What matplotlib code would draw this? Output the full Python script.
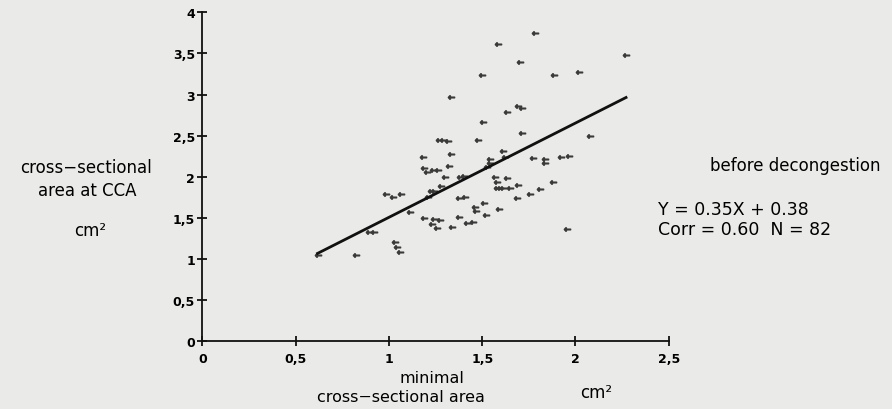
import matplotlib.pyplot as plt
from matplotlib.ticker import FixedLocator, FuncFormatter

plt.rcParams['font.family'] = ['DejaVu Sans']

# minimal cross-sectional area (cm2) vs cross-sectional area at CCA (cm2)
x_vals = [1.783, 1.587, 1.702, 2.271, 1.501, 1.884, 2.019, 1.332, 1.631, 1.692,
          1.712, 1.504, 1.713, 2.078, 1.268, 1.314, 1.475, 1.332, 1.185, 1.609,
          1.542, 1.542, 1.528, 1.772, 1.839, 1.839, 1.925, 1.965, 1.190, 1.204,
          1.238, 1.264, 1.320, 1.300, 1.381, 1.402, 1.568, 1.579, 1.579, 1.614,
          1.649, 1.633, 1.692, 1.877, 1.812, 1.756, 1.686, 1.223, 1.211, 1.279,
          0.984, 1.019, 1.067, 1.378, 1.408, 1.461, 1.468, 1.509, 1.520, 1.588,
          1.113, 1.190, 1.241, 1.276, 1.231, 1.256, 1.338, 1.378, 1.421, 1.448,
          0.893, 0.920, 1.032, 1.045, 1.059, 0.617, 0.823, 1.954, 1.622, 1.239,
          1.596, 1.290]
y_vals = [3.754, 3.621, 3.392, 3.481, 3.238, 3.244, 3.271, 2.974, 2.792, 2.857,
          2.833, 2.663, 2.533, 2.500, 2.453, 2.441, 2.453, 2.277, 2.244, 2.314,
          2.213, 2.165, 2.125, 2.226, 2.216, 2.174, 2.241, 2.249, 2.107, 2.064,
          2.086, 2.083, 2.135, 1.998, 2.001, 2.010, 1.994, 1.934, 1.861, 1.860,
          1.860, 1.983, 1.897, 1.940, 1.849, 1.787, 1.739, 1.833, 1.751, 1.884,
          1.791, 1.758, 1.797, 1.740, 1.754, 1.633, 1.584, 1.685, 1.533, 1.615,
          1.578, 1.505, 1.491, 1.481, 1.432, 1.377, 1.393, 1.517, 1.435, 1.457,
          1.335, 1.333, 1.204, 1.147, 1.086, 1.049, 1.049, 1.371, 2.237, 1.824,
          1.860, 2.450]

# regression line as drawn in the figure
line_slope = 1.146
line_intercept = 0.362

x_ticks = [0, 0.5, 1, 1.5, 2, 2.5]
y_ticks = [0, 0.5, 1, 1.5, 2, 2.5, 3, 3.5, 4]

bg = '#eaeae8'
fig = plt.figure(figsize=(8.92, 4.10), dpi=100, facecolor=bg)
ax = fig.add_axes([0.227, 0.165, 0.5227, 0.8025], facecolor=bg)

ax.plot(x_vals, y_vals, linestyle='none', marker=r'$\leftarrow$',
        markersize=4.5, color='#3a3a3a')

x0, x1 = min(x_vals), max(x_vals)
ax.plot([x0, x1], [line_slope * x0 + line_intercept, line_slope * x1 + line_intercept],
        color='#111111', linewidth=2.0)

ax.set_xlim(0, 2.5)
ax.set_ylim(0, 4)
ax.spines['top'].set_visible(False)
ax.spines['right'].set_visible(False)
for s in ('left', 'bottom'):
    ax.spines[s].set_linewidth(1.3)
    ax.spines[s].set_color('#111111')

comma = FuncFormatter(lambda v, p: ('%g' % v).replace('.', ','))
ax.xaxis.set_major_locator(FixedLocator(x_ticks))
ax.yaxis.set_major_locator(FixedLocator(y_ticks))
ax.xaxis.set_major_formatter(comma)
ax.yaxis.set_major_formatter(comma)
ax.tick_params(direction='inout', length=7, width=1.3, color='#111111',
               labelsize=9, pad=2)
for lab in ax.get_xticklabels() + ax.get_yticklabels():
    lab.set_fontweight('bold')
ax.tick_params(axis='x', pad=4)

# texts
fig.text(86 / 892, 1 - 168 / 410, 'cross\u2212sectional', ha='center', va='center', fontsize=12)
fig.text(87 / 892, 1 - 191 / 410, 'area at CCA', ha='center', va='center', fontsize=12)
fig.text(90 / 892, 1 - 231 / 410, 'cm\u00b2', ha='center', va='center', fontsize=12)

fig.text(880 / 892, 1 - 166 / 410, 'before decongestion', ha='right', va='center', fontsize=12)
fig.text(658 / 892, 1 - 210 / 410, 'Y = 0.35X + 0.38', ha='left', va='center', fontsize=12.5)
fig.text(658 / 892, 1 - 230 / 410, 'Corr = 0.60  N = 82', ha='left', va='center', fontsize=12.5)

fig.text(432 / 892, 1 - 379 / 410, 'minimal', ha='center', va='center', fontsize=11.5)
fig.text(401 / 892, 1 - 398 / 410, 'cross\u2212sectional area', ha='center', va='center', fontsize=11.5)
fig.text(596 / 892, 1 - 393 / 410, 'cm\u00b2', ha='center', va='center', fontsize=12)

fig.savefig('out.png', dpi=100, facecolor=bg)
